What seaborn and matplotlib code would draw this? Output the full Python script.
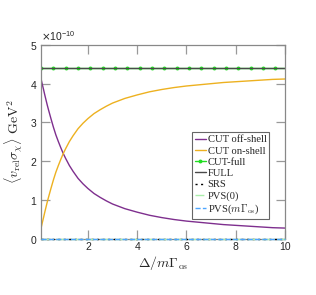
import matplotlib
matplotlib.use('Agg')
import matplotlib.pyplot as plt
from matplotlib.ticker import ScalarFormatter
import seaborn as sns

# Delta / m Gamma_os
x_curve = [0.1, 0.15, 0.2, 0.25, 0.3, 0.35, 0.4, 0.5, 0.6, 0.7, 0.8, 0.9, 1.0, 1.1,
           1.25, 1.4, 1.6, 1.8, 2.0, 2.25, 2.5, 2.75, 3.0, 3.5, 4.0, 4.5, 5.0, 5.5,
           6.0, 6.5, 7.0, 7.5, 8.0, 8.5, 9.0, 9.5, 10.0]
# <v sigma> in 1e-10 GeV^2
off_shell = [4.12, 3.98, 3.85, 3.71, 3.58, 3.45, 3.33, 3.10, 2.88, 2.68, 2.51, 2.35,
             2.20, 2.07, 1.89, 1.74, 1.56, 1.42, 1.30, 1.17, 1.07, 0.98, 0.90, 0.78,
             0.69, 0.61, 0.55, 0.50, 0.46, 0.43, 0.40, 0.37, 0.35, 0.33, 0.31, 0.29,
             0.28]
on_shell = [0.28, 0.42, 0.55, 0.69, 0.82, 0.95, 1.07, 1.30, 1.52, 1.72, 1.89, 2.05,
            2.20, 2.33, 2.51, 2.66, 2.84, 2.98, 3.10, 3.23, 3.33, 3.42, 3.50, 3.62,
            3.71, 3.79, 3.85, 3.90, 3.94, 3.97, 4.00, 4.03, 4.05, 4.07, 4.09, 4.11,
            4.12]

x_grid = [0.1, 0.6, 1.1, 1.6, 2.1, 2.6, 3.1, 3.6, 4.1, 4.6, 5.1, 5.6, 6.1, 6.6,
          7.1, 7.6, 8.1, 8.6, 9.1, 9.6, 10.0]
cut_full = [4.4] * len(x_grid)
full = [4.4] * len(x_grid)
srs = [0.0] * len(x_grid)
pvs0 = [0.0] * len(x_grid)
pvs_m = [0.0] * len(x_grid)

scale = 1e-10

sns.set_style('white')
plt.rcParams['font.family'] = ['Liberation Sans', 'DejaVu Sans']
plt.rcParams['mathtext.fontset'] = 'cm'

fig = plt.figure(figsize=(3.16, 2.95), dpi=100)
ax = fig.add_axes([0.13, 0.19, 0.772, 0.658])

def sc(vals):
    return [v * scale for v in vals]

sns.lineplot(x=x_curve, y=sc(off_shell), ax=ax, color='#7E2F8E', lw=1.0,
             label='CUT off-shell')
sns.lineplot(x=x_curve, y=sc(on_shell), ax=ax, color='#EDB120', lw=1.0,
             label='CUT on-shell')
sns.lineplot(x=x_grid, y=sc(cut_full), ax=ax, color='#22dd22', lw=1.0, marker='o',
             markersize=2.8, markeredgewidth=0, markevery=slice(0, -1), label='CUT-full')
sns.lineplot(x=x_grid, y=sc(full), ax=ax, color='#4a4a4a', lw=1.0, label='FULL')
sns.lineplot(x=x_grid, y=sc(srs), ax=ax, color='black', lw=1.0, ls=(0, (1.5, 2.5)),
             label='SRS', clip_on=False, zorder=3)
sns.lineplot(x=x_grid, y=sc(pvs0), ax=ax, color='#aaeeaa', lw=1.0, ls='-.',
             label='PVS(0)', clip_on=False, zorder=3)
sns.lineplot(x=x_grid, y=sc(pvs_m), ax=ax, color='#4da6ff', lw=1.0, ls='--',
             label=r'PVS($m\Gamma_{\rm os}$)', clip_on=False, zorder=3)

ax.set_xlim(0.1, 10)
ax.set_ylim(0, 5e-10)
ax.set_xticks([2, 4, 6, 8, 10])
ax.set_yticks([0, 1e-10, 2e-10, 3e-10, 4e-10, 5e-10])

fmt = ScalarFormatter(useMathText=True)
fmt.set_powerlimits((0, 0))
ax.yaxis.set_major_formatter(fmt)
off = ax.yaxis.get_offset_text()
off.set_fontsize(7.5)
off.set_math_fontfamily('dejavusans')

ax.tick_params(direction='in', bottom=True, left=True, top=True, right=True,
               length=6.5, width=0.9, color='#999999', labelsize=7.5, pad=2.5)
for s in ax.spines.values():
    s.set_color('#888888')
    s.set_linewidth(0.9)

ax.set_xlabel(r'$\Delta/m\Gamma_{\rm os}$', fontsize=10, labelpad=1)
ax.set_ylabel(r'$\langle v_{\rm rel}\sigma_{\chi}\rangle\ \mathrm{GeV}^2$', fontsize=10,
              labelpad=4)

leg = ax.legend(loc='upper left', bbox_to_anchor=(0.62, 0.55),
                prop={'family': ['Liberation Serif'], 'size': 7.6},
                handlelength=1.0, handletextpad=0.2, borderpad=0.25,
                labelspacing=0.18, borderaxespad=0, fancybox=False, framealpha=1)
leg.get_frame().set_edgecolor('#666666')
leg.get_frame().set_linewidth(0.8)

fig.savefig('out.png', dpi=100)
